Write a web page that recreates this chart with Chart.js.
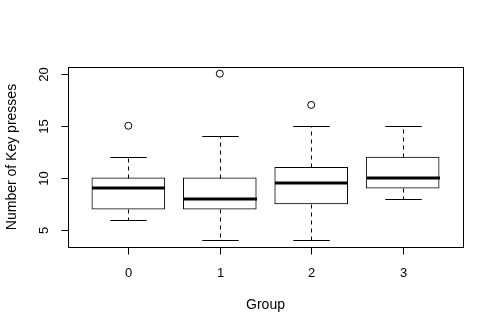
<!DOCTYPE html>
<html>
<head>
<meta charset="utf-8">
<script src="https://cdn.jsdelivr.net/npm/chart.js@4/dist/chart.umd.min.js"></script>
<style>
  body { margin: 0; background: #fff; }
</style>
</head>
<body>
<canvas id="boxChart" width="498" height="332"></canvas>
<script>
// Box statistics per group
let groups = ["0", "1", "2", "3"];
let positions = [1, 2, 3, 4];
let lowerWhisker = [6, 4, 4, 8];
let lowerQuartile = [7, 7, 7.5, 9];
let medians = [9, 8, 9.5, 10];
let upperQuartile = [10, 10, 11, 12];
let upperWhisker = [12, 14, 15, 15];
let outliers = [[15], [20], [17], []];
let yTicks = [5, 10, 15, 20];

let boxData = positions.map((p, i) => ({ x: p, y: [lowerQuartile[i], upperQuartile[i]] }));
let outlierData = [];
outliers.forEach((list, i) => {
  list.forEach((v) => outlierData.push({ x: positions[i], y: v }));
});

const BOX_WIDTH = 73;
const FONT = "Liberation Sans, Arial, sans-serif";

function line(ctx, x1, y1, x2, y2) {
  ctx.beginPath();
  ctx.moveTo(x1, y1);
  ctx.lineTo(x2, y2);
  ctx.stroke();
}

// Whiskers, medians, frame and axes drawn with the chart's own scales
const boxplotExtras = {
  id: "boxplotExtras",
  afterDatasetsDraw(chart) {
    let ctx = chart.ctx;
    let xs = chart.scales.x;
    let ys = chart.scales.y;
    let area = chart.chartArea;
    let px = (v) => Math.round(xs.getPixelForValue(v)) + 0.5;
    let py = (v) => Math.round(ys.getPixelForValue(v)) + 0.5;

    ctx.save();
    ctx.strokeStyle = "#000";

    positions.forEach((p, i) => {
      let cx = px(p);
      let half = BOX_WIDTH / 2;

      // dashed whiskers
      ctx.lineWidth = 1;
      ctx.setLineDash([4, 4]);
      line(ctx, cx, py(upperQuartile[i]), cx, py(upperWhisker[i]));
      line(ctx, cx, py(lowerQuartile[i]), cx, py(lowerWhisker[i]));
      ctx.setLineDash([]);

      // staples
      line(ctx, cx - half / 2, py(upperWhisker[i]), cx + half / 2, py(upperWhisker[i]));
      line(ctx, cx - half / 2, py(lowerWhisker[i]), cx + half / 2, py(lowerWhisker[i]));

      // median
      ctx.lineWidth = 3;
      let my = Math.round(ys.getPixelForValue(medians[i]));
      line(ctx, cx - half, my, cx + half, my);
    });

    // frame
    ctx.lineWidth = 1;
    ctx.strokeRect(Math.round(area.left) + 0.5, Math.round(area.top) + 0.5,
      Math.round(area.width), Math.round(area.height));

    ctx.fillStyle = "#000";

    // x axis ticks and labels
    let bottom = Math.round(area.bottom) + 0.5;
    ctx.font = "13px " + FONT;
    ctx.textAlign = "center";
    ctx.textBaseline = "middle";
    positions.forEach((p, i) => {
      line(ctx, px(p), bottom, px(p), bottom + 7);
      ctx.fillText(groups[i], px(p), 273);
    });

    // y axis ticks and rotated labels
    let left = Math.round(area.left) + 0.5;
    yTicks.forEach((t) => {
      line(ctx, left - 7, py(t), left, py(t));
      ctx.save();
      ctx.translate(44, py(t));
      ctx.rotate(-Math.PI / 2);
      ctx.fillText(String(t), 0, 0);
      ctx.restore();
    });

    // axis titles
    ctx.font = "14px " + FONT;
    ctx.fillText("Group", (area.left + area.right) / 2, 305);
    ctx.save();
    ctx.translate(12, (area.top + area.bottom) / 2);
    ctx.rotate(-Math.PI / 2);
    ctx.fillText("Number of Key presses", 0, 0);
    ctx.restore();

    ctx.restore();
  },
};

let ctx = document.getElementById("boxChart").getContext("2d");

let boxChart = new Chart(ctx, {
  type: "bar",
  data: {
    datasets: [
      {
        type: "bar",
        data: boxData,
        backgroundColor: "#fff",
        borderColor: "#000",
        borderWidth: 1,
        borderSkipped: false,
        barThickness: BOX_WIDTH,
      },
      {
        type: "scatter",
        data: outlierData,
        pointStyle: "circle",
        pointRadius: 3.5,
        pointBackgroundColor: "#fff",
        pointBorderColor: "#000",
        pointBorderWidth: 1,
      },
    ],
  },
  options: {
    responsive: false,
    animation: false,
    layout: {
      padding: { left: 68, top: 67, right: 35, bottom: 85 },
    },
    plugins: {
      legend: { display: false },
      tooltip: { enabled: false },
    },
    scales: {
      x: { type: "linear", min: 0.34, max: 4.66, offset: false, display: false },
      y: { type: "linear", min: 3.36, max: 20.64, display: false },
    },
  },
  plugins: [boxplotExtras],
});
</script>
</body>
</html>
